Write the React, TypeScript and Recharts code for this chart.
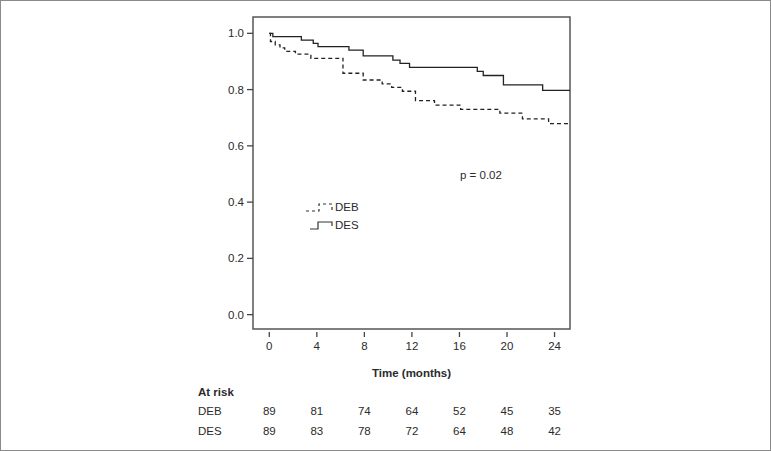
import { LineChart, Line, XAxis, YAxis, ReferenceArea, Legend } from 'recharts';

// Kaplan-Meier estimates (time in months, survival)
const debTimes = [0, 0.1, 0.5, 0.9, 1.3, 2.2, 3.5, 6.2, 7.9, 9.5, 10.3, 11.2, 12.3, 13.9, 16.1, 19.4, 21.3, 23.5, 25.3];
const debSurv = [1.0, 0.971, 0.959, 0.948, 0.936, 0.926, 0.911, 0.858, 0.834, 0.82, 0.808, 0.794, 0.761, 0.745, 0.73, 0.716, 0.696, 0.679, 0.679];
const desTimes = [0, 0.3, 2.7, 3.7, 4.1, 6.7, 7.9, 10.4, 11.0, 11.8, 17.5, 18.0, 19.7, 23.0, 25.3];
const desSurv = [1.0, 0.988, 0.976, 0.964, 0.953, 0.94, 0.92, 0.905, 0.893, 0.879, 0.865, 0.85, 0.817, 0.797, 0.797];

const timeTicks = [0, 4, 8, 12, 16, 20, 24];
const survTicks = [0, 0.2, 0.4, 0.6, 0.8, 1.0];
const debAtRisk = [89, 81, 74, 64, 52, 45, 35];
const desAtRisk = [89, 83, 78, 72, 64, 48, 42];

const X_DOMAIN: [number, number] = [-1.37, 25.3];
const Y_DOMAIN: [number, number] = [-0.051, 1.058];
const FONT = '"Liberation Sans", Arial, sans-serif';
const INK = '#2b2b2b';

const debData = debTimes.map((t, i) => ({ t, s: debSurv[i] }));
const desData = desTimes.map((t, i) => ({ t, s: desSurv[i] }));

// bottom axes are stacked by id, so the ids keep them in order
const AX_TIME = 'a-time';
const AX_DEB = 'b-deb';
const AX_DES = 'c-des';

const TimeTick = ({ x, y, payload }: any) => (
  <g>
    <line x1={x} x2={x} y1={y + 3} y2={y + 8} stroke="#444" strokeWidth={1.3} />
    <text x={x} y={y + 21} textAnchor="middle" fontSize={11.5} fontFamily={FONT} fill={INK}>
      {payload.value}
    </text>
  </g>
);

const riskTick = (counts: number[], dy: number) => ({ x, y, payload }: any) => (
  <text x={x} y={y + dy} textAnchor="middle" fontSize={11.5} fontFamily={FONT} fill={INK}>
    {counts[timeTicks.indexOf(payload.value)]}
  </text>
);

const rowLabel = (name: string, dy: number, header?: string) => (props: any) => {
  const vb = props.viewBox || {};
  return (
    <g>
      {header && (
        <text x={198} y={vb.y + 17} fontSize={11.5} fontWeight="bold" fontFamily={FONT} fill={INK}>
          {header}
        </text>
      )}
      <text x={198} y={vb.y + dy} fontSize={11.5} fontFamily={FONT} fill={INK}>
        {name}
      </text>
    </g>
  );
};

const timeLabel = (props: any) => {
  const vb = props.viewBox || {};
  return (
    <text x={vb.x + vb.width / 2} y={vb.y + 48} textAnchor="middle" fontSize={11.5} fontWeight="bold" fontFamily={FONT} fill={INK}>
      Time (months)
    </text>
  );
};

const KmLegend = () => (
  <div style={{ fontFamily: FONT, fontSize: 11.5, color: INK, lineHeight: '18px' }}>
    <div style={{ display: 'flex', alignItems: 'center' }}>
      <svg width={30} height={14}>
        <path d="M1,11 H14 V4 H27 V11" fill="none" stroke="#333" strokeWidth={1.2} strokeDasharray="3 3" />
      </svg>
      <span>DEB</span>
    </div>
    <div style={{ display: 'flex', alignItems: 'center' }}>
      <svg width={30} height={14}>
        <path d="M5,11 H13 V4 H27 V8" fill="none" stroke="#333" strokeWidth={1.2} />
      </svg>
      <span>DES</span>
    </div>
  </div>
);

export default function App() {
  return (
    <div style={{ position: 'absolute', left: 0, top: 0, width: 771, height: 451, background: '#fff', fontFamily: FONT }}>
      <LineChart width={771} height={451} margin={{ top: 17, right: 201, left: 213, bottom: 12 }}>
        <XAxis
          xAxisId={AX_TIME}
          type="number"
          dataKey="t"
          domain={X_DOMAIN}
          ticks={timeTicks}
          allowDataOverflow
          axisLine={false}
          tickLine={false}
          tickSize={0}
          tickMargin={0}
          height={50}
          tick={<TimeTick />}
          label={timeLabel}
        />
        <XAxis
          xAxisId={AX_DEB}
          type="number"
          dataKey="t"
          domain={X_DOMAIN}
          ticks={timeTicks}
          allowDataOverflow
          axisLine={false}
          tickLine={false}
          tickSize={0}
          tickMargin={0}
          height={40}
          tick={riskTick(debAtRisk, 36)}
          label={rowLabel('DEB', 36, 'At risk')}
        />
        <XAxis
          xAxisId={AX_DES}
          type="number"
          dataKey="t"
          domain={X_DOMAIN}
          ticks={timeTicks}
          allowDataOverflow
          axisLine={false}
          tickLine={false}
          tickSize={0}
          tickMargin={0}
          height={20}
          tick={riskTick(desAtRisk, 16)}
          label={rowLabel('DES', 16)}
        />
        <YAxis
          type="number"
          domain={Y_DOMAIN}
          ticks={survTicks}
          allowDataOverflow
          width={40}
          axisLine={false}
          tickLine={{ stroke: '#444', strokeWidth: 1.3 }}
          tickSize={6}
          tickMargin={3}
          tickFormatter={(v: number) => v.toFixed(1)}
          tick={{ fill: INK, fontSize: 11.5, fontFamily: FONT }}
        />
        <ReferenceArea
          xAxisId={AX_TIME}
          x1={X_DOMAIN[0]}
          x2={X_DOMAIN[1]}
          y1={Y_DOMAIN[0]}
          y2={Y_DOMAIN[1]}
          fill="none"
          stroke="#555"
          strokeWidth={1.5}
          ifOverflow="visible"
        />
        <Line
          xAxisId={AX_TIME}
          data={desData}
          dataKey="s"
          type="stepAfter"
          stroke="#222"
          strokeWidth={1.3}
          dot={false}
          isAnimationActive={false}
        />
        <Line
          xAxisId={AX_TIME}
          data={debData}
          dataKey="s"
          type="stepAfter"
          stroke="#222"
          strokeWidth={1.3}
          strokeDasharray="4 3"
          dot={false}
          isAnimationActive={false}
        />
        <Legend
          layout="vertical"
          align="center"
          verticalAlign="middle"
          content={<KmLegend />}
          wrapperStyle={{ position: 'absolute', left: 305, top: 198, width: 'auto', height: 'auto' }}
        />
      </LineChart>
      <div style={{ position: 'absolute', left: 460, top: 169, fontSize: 11.5, color: INK }}>p = 0.02</div>
      <div style={{ position: 'absolute', inset: 0, border: '1px solid #8a8a8a', boxSizing: 'border-box', pointerEvents: 'none' }} />
    </div>
  );
}
